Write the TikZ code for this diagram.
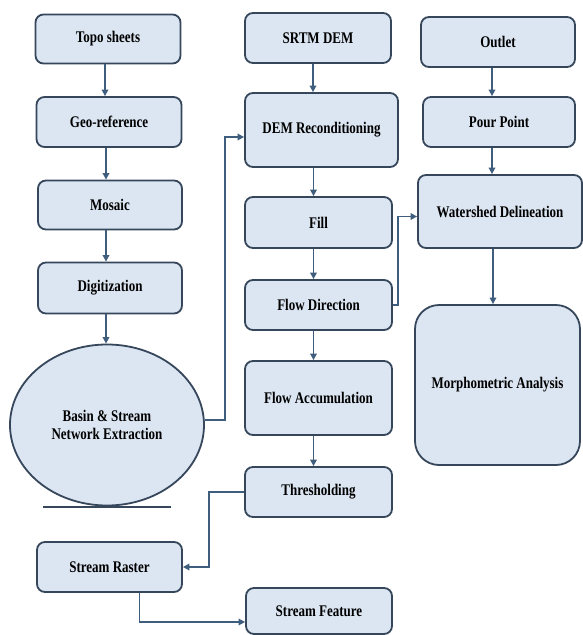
\documentclass[tikz,border=0pt]{standalone}
\usepackage{fontspec}
\setmainfont{Liberation Serif}
\usepackage{graphicx}
\usetikzlibrary{shapes.geometric,arrows.meta}
\definecolor{boxfill}{HTML}{DCE6F2}
\definecolor{boxline}{HTML}{36475B}
\definecolor{arrline}{HTML}{3F5E7E}
\newcommand{\tx}[1]{\scalebox{1}[1.25]{#1}}
\tikzset{
  box/.style={draw=boxline, fill=boxfill, line width=1.8pt, rounded corners=8pt,
    font=\fontsize{13}{15}\selectfont\bfseries, align=center, inner sep=0pt},
  arr/.style={draw=arrline, line width=1.8pt, -{Triangle[length=6.5pt,width=6.5pt]}},
}
\begin{document}
\begin{tikzpicture}[x=1pt,y=-1pt]
\useasboundingbox (0,0) rectangle (583,635);
% left column
\node[box, minimum width=145pt, minimum height=49pt] (topo) at (108,39) {\tx{Topo sheets}};
\node[box, minimum width=145pt, minimum height=50pt] (geo) at (109,122) {\tx{Geo-reference}};
\node[box, minimum width=144pt, minimum height=49pt] (mosaic) at (110,205) {\tx{Mosaic}};
\node[box, minimum width=144pt, minimum height=51pt] (digit) at (110,288) {\tx{Digitization}};
\node[ellipse, draw=boxline, fill=boxfill, line width=1.8pt, minimum width=194pt, minimum height=161pt,
  inner sep=0pt, font=\fontsize{13}{15}\selectfont\bfseries, align=center] (basin) at (107,425)
  {\tx{Basin \& Stream}\\[3pt]\tx{Network Extraction}};
\coordinate (bl) at (43,507);
\coordinate (br) at (171,507);
\draw[boxline, line width=1.8pt] (bl) -- (br);
\node[box, minimum width=145pt, minimum height=50pt] (raster) at (109.5,567) {\tx{Stream Raster}};
% middle column
\node[box, minimum width=146pt, minimum height=50pt] (srtm) at (318,38) {\tx{SRTM DEM}};
\node[box, minimum width=153pt, minimum height=74pt] (dem) at (321.5,130) {\tx{DEM Reconditioning}};
\node[box, minimum width=147pt, minimum height=51pt] (fill) at (318.5,222.5) {\tx{Fill}};
\node[box, minimum width=147pt, minimum height=50pt] (fdir) at (318.5,305) {\tx{Flow Direction}};
\node[box, minimum width=147pt, minimum height=74pt] (facc) at (318.5,398) {\tx{Flow Accumulation}};
\node[box, minimum width=147pt, minimum height=50pt] (thr) at (318.5,492) {\tx{Thresholding}};
\node[box, minimum width=146pt, minimum height=46pt] (feat) at (319,611) {\tx{Stream Feature}};
% right column
\node[box, minimum width=154pt, minimum height=50pt] (outlet) at (498,42) {\tx{Outlet}};
\node[box, minimum width=152pt, minimum height=50pt] (pour) at (499,122) {\tx{Pour Point}};
\node[box, minimum width=164pt, minimum height=73pt] (wshed) at (500,211.5) {\tx{Watershed Delineation}};
\node[box, rounded corners=24pt, minimum width=165pt, minimum height=160pt] (morph) at (497.5,385) {\tx{Morphometric Analysis}};
% arrows
\draw[arr] ([xshift=-3pt]topo.south) -- ([xshift=-3pt]topo.south |- geo.north);
\draw[arr] ([xshift=-3pt]geo.south) -- ([xshift=-3pt]geo.south |- mosaic.north);
\draw[arr] ([xshift=-4pt]mosaic.south) -- ([xshift=-4pt]mosaic.south |- digit.north);
\draw[arr] ([xshift=-4pt]digit.south) -- ([xshift=-4pt]digit.south |- basin.north);
\draw[arr] ([xshift=-5pt]srtm.south) -- ([xshift=-5pt]srtm.south |- dem.north);
\draw[arr] ([xshift=-5pt]fill.north |- dem.south) -- ([xshift=-5pt]fill.north);
\draw[arr] ([xshift=-5pt]fill.south) -- ([xshift=-5pt]fdir.north);
\draw[arr] ([xshift=-5pt]fdir.south) -- ([xshift=-5pt]facc.north);
\draw[arr] ([xshift=-5pt]facc.south) -- ([xshift=-5pt]thr.north);
\draw[arr] ([xshift=-6pt]outlet.south) -- ([xshift=-6pt]outlet.south |- pour.north);
\draw[arr] ([xshift=-7pt]pour.south) -- ([xshift=-7pt]pour.south |- wshed.north);
\draw[arr] ([xshift=-7pt]wshed.south) -- ([xshift=-7pt]wshed.south |- morph.north);
\draw[arr] ([yshift=5pt]basin.east) -- ++(20,0) |- ([yshift=-7pt]dem.west);
\draw[arr] (fdir.east) -- ++(5,0) |- ([yshift=-5pt]wshed.west);
\draw[arr] (thr.west) -- ++(-35,0) |- (raster.east);
\draw[arr] ([xshift=30pt]raster.south) |- ([yshift=-11pt]feat.west);
\end{tikzpicture}
\end{document}
